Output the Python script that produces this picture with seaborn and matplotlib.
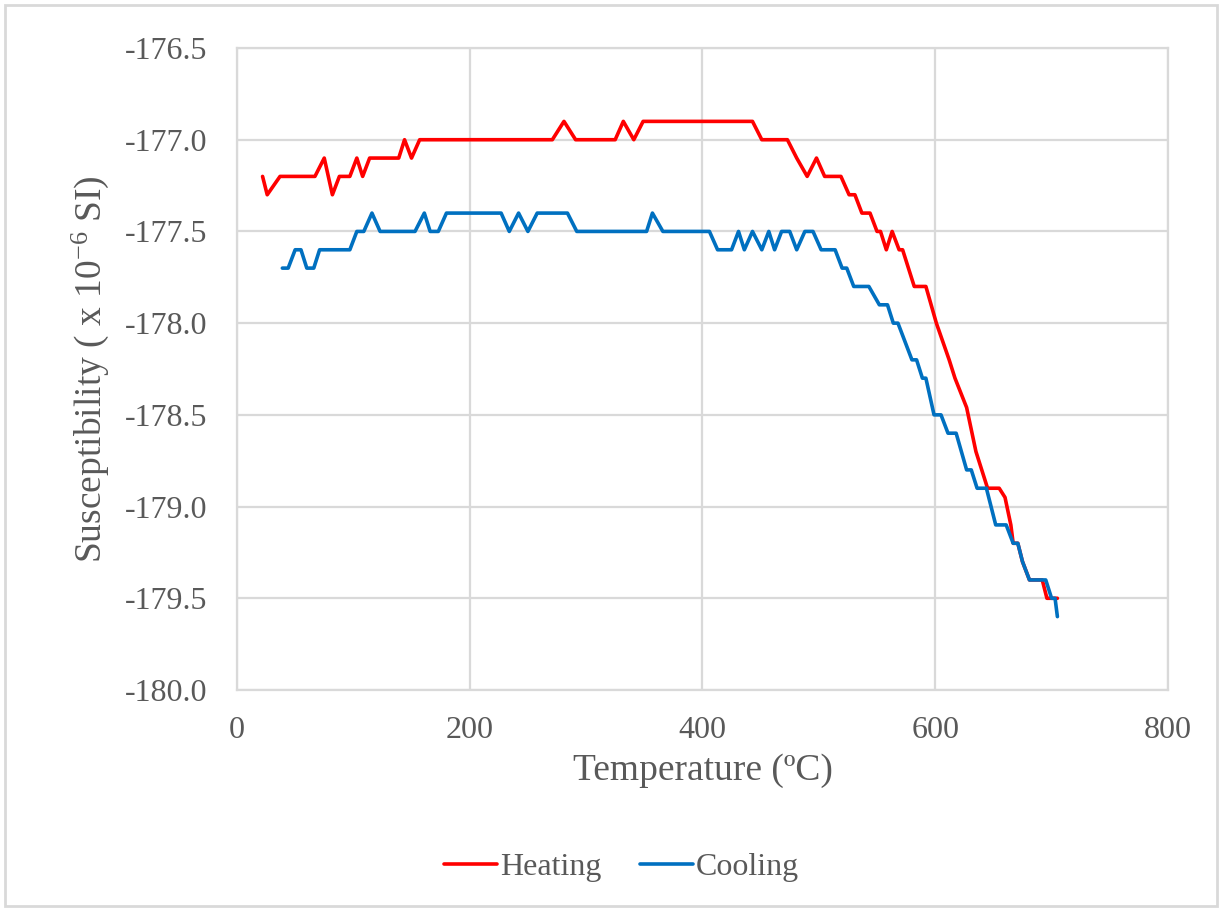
import pandas as pd
import matplotlib.pyplot as plt
import seaborn as sns
from matplotlib.patches import Rectangle

# heating run
heat_temp = [22, 26, 37, 67, 75, 82, 88, 97, 103, 108, 114, 139, 144, 150, 157,
             271, 281, 291, 325, 332, 341, 349, 443, 451, 473, 481, 490, 498, 505,
             519, 526, 531, 537, 544, 550, 553, 558, 563, 569, 572, 582, 592, 601,
             612, 617, 627, 635, 645, 655, 660, 665, 667, 671, 675, 681, 692, 696, 705]
heat_chi = [-177.2, -177.3, -177.2, -177.2, -177.1, -177.3, -177.2, -177.2, -177.1, -177.2,
            -177.1, -177.1, -177.0, -177.1, -177.0, -177.0, -176.9, -177.0, -177.0, -176.9,
            -177.0, -176.9, -176.9, -177.0, -177.0, -177.1, -177.2, -177.1, -177.2, -177.2,
            -177.3, -177.3, -177.4, -177.4, -177.5, -177.5, -177.6, -177.5, -177.6, -177.6,
            -177.8, -177.8, -178.0, -178.2, -178.3, -178.46, -178.7, -178.9, -178.9, -178.95,
            -179.1, -179.2, -179.2, -179.3, -179.4, -179.4, -179.5, -179.5]

# cooling run
cool_temp = [39, 44, 50, 55, 60, 66, 71, 97, 103, 109, 116, 123, 153, 161, 166, 173, 180,
             227, 234, 242, 250, 258, 284, 292, 352, 357, 366, 406, 413, 425, 431, 436,
             443, 451, 457, 462, 468, 475, 481, 488, 495, 502, 514, 520, 524, 530, 543,
             552, 559, 564, 568, 574, 580, 584, 589, 592, 599, 605, 611, 618, 627, 631,
             636, 644, 652, 661, 667, 671, 675, 681, 695, 700, 703, 705]
cool_chi = [-177.7, -177.7, -177.6, -177.6, -177.7, -177.7, -177.6, -177.6, -177.5, -177.5,
            -177.4, -177.5, -177.5, -177.4, -177.5, -177.5, -177.4, -177.4, -177.5, -177.4,
            -177.5, -177.4, -177.4, -177.5, -177.5, -177.4, -177.5, -177.5, -177.6, -177.6,
            -177.5, -177.6, -177.5, -177.6, -177.5, -177.6, -177.5, -177.5, -177.6, -177.5,
            -177.5, -177.6, -177.6, -177.7, -177.7, -177.8, -177.8, -177.9, -177.9, -178.0,
            -178.0, -178.1, -178.2, -178.2, -178.3, -178.3, -178.5, -178.5, -178.6, -178.6,
            -178.8, -178.8, -178.9, -178.9, -179.1, -179.1, -179.2, -179.2, -179.3, -179.4,
            -179.4, -179.5, -179.5, -179.6]

x_ticks = [0, 200, 400, 600, 800]
y_ticks = [-180.0, -179.5, -179.0, -178.5, -178.0, -177.5, -177.0, -176.5]

df = pd.concat([
    pd.DataFrame({'T': heat_temp, 'chi': heat_chi, 'run': 'Heating'}),
    pd.DataFrame({'T': cool_temp, 'chi': cool_chi, 'run': 'Cooling'}),
])

sns.set_theme(style='white')
plt.rcParams['font.family'] = ['Liberation Serif', 'DejaVu Serif']
plt.rcParams['mathtext.fontset'] = 'custom'
plt.rcParams['mathtext.rm'] = 'Liberation Serif'
plt.rcParams['mathtext.it'] = 'Liberation Serif:italic'
plt.rcParams['axes.unicode_minus'] = False
plt.rcParams['lines.solid_joinstyle'] = 'round'

grey = '#595959'
grid_col = '#d9d9d9'

fig = plt.figure(figsize=(12.24, 9.11), dpi=100)
ax = fig.add_axes([0.1936, 0.2426, 0.7606, 0.7047])

sns.lineplot(data=df, x='T', y='chi', hue='run', sort=False, estimator=None,
             palette={'Heating': '#ff0000', 'Cooling': '#0070c0'},
             linewidth=2.6, ax=ax)

ax.set_xlim(0, 800)
ax.set_ylim(-180.0, -176.5)
ax.set_xticks(x_ticks)
ax.set_yticks(y_ticks)
ax.set_yticklabels([f'{v:.1f}' for v in y_ticks])
ax.tick_params(length=0, labelsize=23, labelcolor=grey)
ax.tick_params(axis='x', pad=19)
ax.tick_params(axis='y', pad=21)
ax.grid(True, color=grid_col, linewidth=1.6)
for s in ax.spines.values():
    s.set_color(grid_col)
    s.set_linewidth(1.6)

ax.set_xlabel('Temperature (ºC)', fontsize=27, color=grey, labelpad=6)
ax.set_ylabel('Susceptibility ( x 10$^{-6}$ SI)', fontsize=27, color=grey, labelpad=10)

ax.legend(loc='center', bbox_to_anchor=(0.508, 0.048), bbox_transform=fig.transFigure,
          ncol=2, frameon=False, fontsize=23, labelcolor=grey,
          handlelength=1.65, handletextpad=0.1, columnspacing=1.2)

fig.patches.append(Rectangle((0.004, 0.005), 0.99, 0.99, transform=fig.transFigure,
                             fill=False, edgecolor=grid_col, linewidth=2))

fig.savefig('out.png', dpi=100)
